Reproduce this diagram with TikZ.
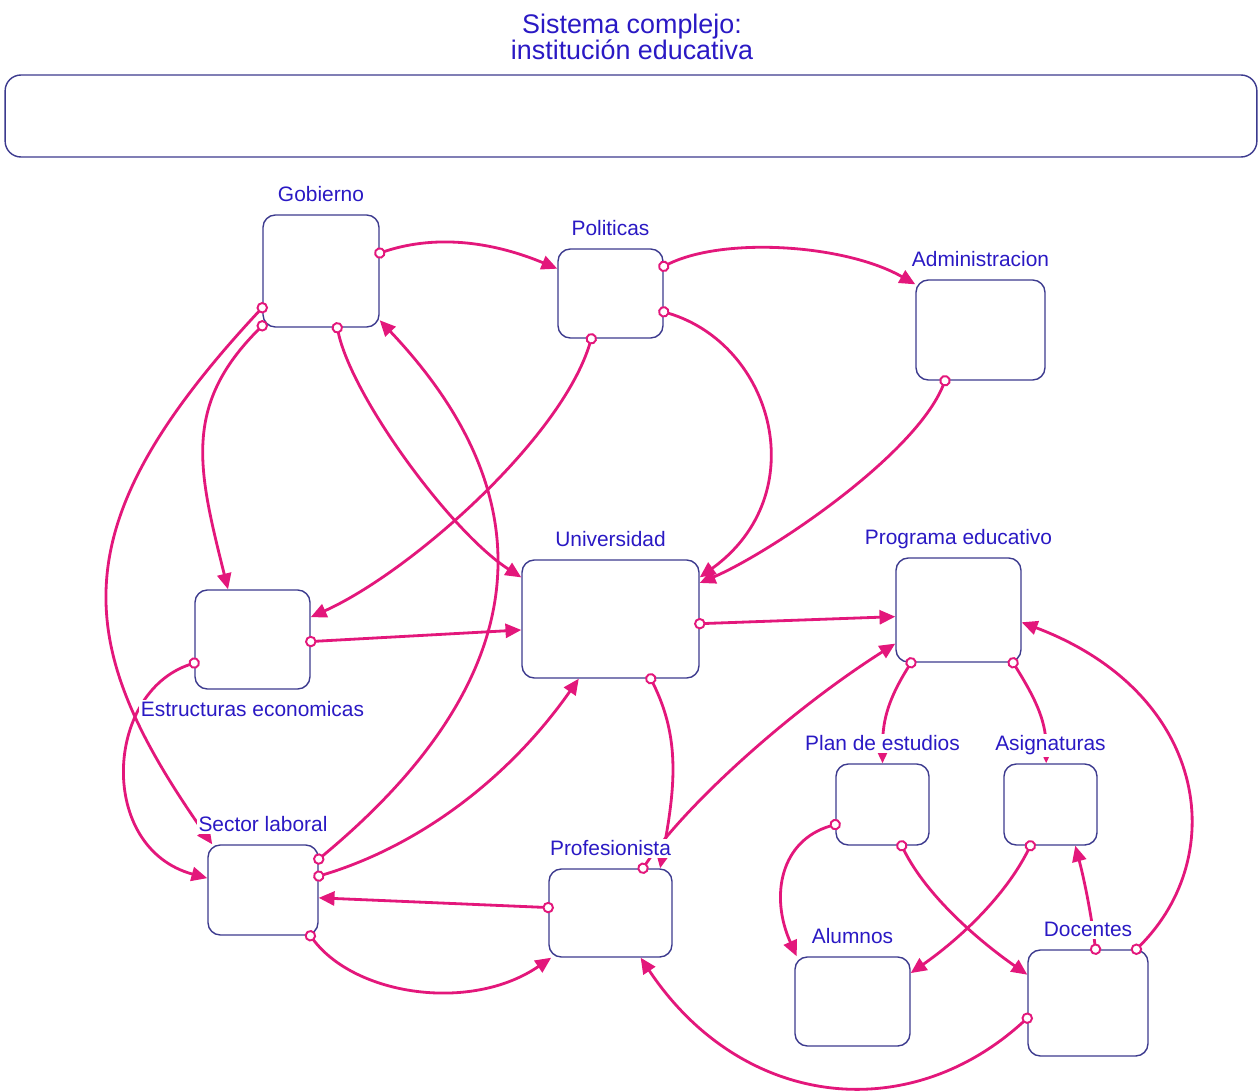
\documentclass[tikz,border=0pt]{standalone}
\usepackage{fontspec}
\setmainfont{Liberation Sans}
\usepackage{tikz}
\usetikzlibrary{arrows.meta,positioning}
\definecolor{LinkMagenta}{HTML}{E3177B}
\definecolor{BoxNavy}{HTML}{3C3A8E}
\definecolor{LabelBlue}{HTML}{2A19C4}
\tikzset{
  BX/.style={rectangle,rounded corners=7pt,draw=BoxNavy,line width=0.8pt,
             fill=white,inner sep=0pt},
  LB/.style={fill=white,inner sep=1pt,text=LabelBlue,
             font=\fontsize{11.9}{14}\selectfont},
  arr/.style={arrows={Circle[open,fill=white,length=6.5pt,line width=1.1pt]-Triangle[length=9pt,width=8pt,fill=LinkMagenta]},
              line width=1.6pt,draw=LinkMagenta,shorten <=-3.2pt}
}
\begin{document}
\begin{tikzpicture}[x=0.02cm,y=0.02cm]
  \useasboundingbox (0,0) rectangle (1259,-1092);
  \node[text=LabelBlue,align=center,font=\fontsize{15.3}{14.7}\selectfont] (ttl) at (632,-37)
    {Sistema complejo:\\instituci\'on educativa};
  \node[BX,rounded corners=9pt,minimum width=25.04cm,minimum height=1.64cm] (frm) at (631,-116) {};

  \node[BX,minimum width=2.32cm,minimum height=2.24cm] (gob) at (321,-271) {};
  \node[BX,minimum width=2.10cm,minimum height=1.78cm] (pol) at (610.5,-293.5) {};
  \node[BX,minimum width=2.58cm,minimum height=2.00cm] (adm) at (980.5,-330) {};
  \node[BX,minimum width=2.30cm,minimum height=1.98cm] (est) at (252.5,-639.5) {};
  \node[BX,minimum width=3.54cm,minimum height=2.36cm] (uni) at (610.5,-619) {};
  \node[BX,minimum width=2.50cm,minimum height=2.08cm] (prog) at (958.5,-610) {};
  \node[BX,minimum width=1.86cm,minimum height=1.62cm] (plan) at (882.5,-804.5) {};
  \node[BX,minimum width=1.86cm,minimum height=1.62cm] (asig) at (1050.5,-804.5) {};
  \node[BX,minimum width=2.20cm,minimum height=1.80cm] (sec) at (263,-890) {};
  \node[BX,minimum width=2.46cm,minimum height=1.76cm] (prof) at (610.5,-913) {};
  \node[BX,minimum width=2.30cm,minimum height=1.78cm] (alu) at (852.5,-1001.5) {};
  \node[BX,minimum width=2.40cm,minimum height=2.12cm] (doc) at (1088,-1003) {};

  \draw[arr] (gob.17) .. controls +(60,20) and +(-60,25) .. (pol.155);
  \draw[arr] (pol.27) .. controls +(60,30) and +(-70,40) .. (adm.145);
  \draw[arr] (pol.-19) .. controls +(110,-33) and +(115,83) .. (uni.25);
  \draw[arr] (pol.-113) .. controls +(-30,-100) and +(100,45) .. (est.21);
  \draw[arr] (adm.-125) .. controls +(-30,-75) and +(70,30) .. (uni.22);
  \draw[arr] (gob.-74) .. controls +(15,-70) and +(-70,45) .. (uni.155);
  \draw[arr] (gob.-137) .. controls +(-80,-80) and +(-30,120) .. (est.116);
  \draw[arr] (gob.-148) .. controls +(-205,-220) and +(-140,200) .. (sec.138);
  \draw[arr] (est.-158) .. controls +(-90,-30) and +(-110,30) .. (sec.168);
  \draw[arr] (sec.29) .. controls +(205,170) and +(180,-190) .. (gob.-40);
  \draw[arr] (sec.14) .. controls +(100,30) and +(-70,-100) .. (uni.-118);
  \draw[arr] (est.-2) -- (uni.-173);
  \draw[arr] (uni.-3) -- (prog.-174);
  \draw[arr] (uni.-56) .. controls +(30,-60) and +(15,80) .. (prof.42);
  \draw[arr] (prof.54) .. controls +(40,60) and +(-110,-70) .. (prog.-152);
  \draw[arr] (prof.175) -- (sec.-8);
  \draw[arr] (sec.-44) .. controls +(45,-60) and +(-80,-55) .. (prof.-143);
  \draw[arr] (doc.-166) .. controls +(-120,-110) and +(100,-150) .. (prof.-56);
  \draw[arr] (doc.48) .. controls +(95,95) and +(185,-70) .. (prog.-11);
  \draw[arr] (doc.82) .. controls +(-5,40) and +(8,-30) .. (asig.-59);
  \draw[arr] (prog.-132) .. controls +(-25,-40) and +(0,40) .. (plan.north);
  \draw[arr] (prog.-44) .. controls +(25,-40) and +(0,40) .. (asig.96);
  \draw[arr] (plan.-157) .. controls +(-55,-16) and +(-27,60) .. (alu.141);
  \draw[arr] (plan.-65) .. controls +(25,-50) and +(-50,35) .. (doc.155);
  \draw[arr] (asig.-116) .. controls +(-25,-50) and +(50,35) .. (alu.26);

  \node[LB,above=0.25cm of gob,anchor=base] (gobL) {Gobierno};
  \node[LB,above=0.25cm of pol,anchor=base] (polL) {Politicas};
  \node[LB,above=0.25cm of adm,anchor=base] (admL) {Administracion};
  \node[LB,below=0.54cm of est,anchor=base] (estL) {Estructuras economicas};
  \node[LB,above=0.25cm of uni,anchor=base] (uniL) {Universidad};
  \node[LB,above=0.25cm of prog,anchor=base] (progL) {Programa educativo};
  \node[LB,above=0.25cm of plan,anchor=base] (planL) {Plan de estudios};
  \node[LB,above=0.25cm of asig,anchor=base] (asigL) {Asignaturas};
  \node[LB,above=0.25cm of sec,anchor=base] (secL) {Sector laboral};
  \node[LB,above=0.25cm of prof,anchor=base] (profL) {Profesionista};
  \node[LB,above=0.25cm of alu,anchor=base] (aluL) {Alumnos};
  \node[LB,above=0.25cm of doc,anchor=base] (docL) {Docentes};
\end{tikzpicture}
\end{document}
